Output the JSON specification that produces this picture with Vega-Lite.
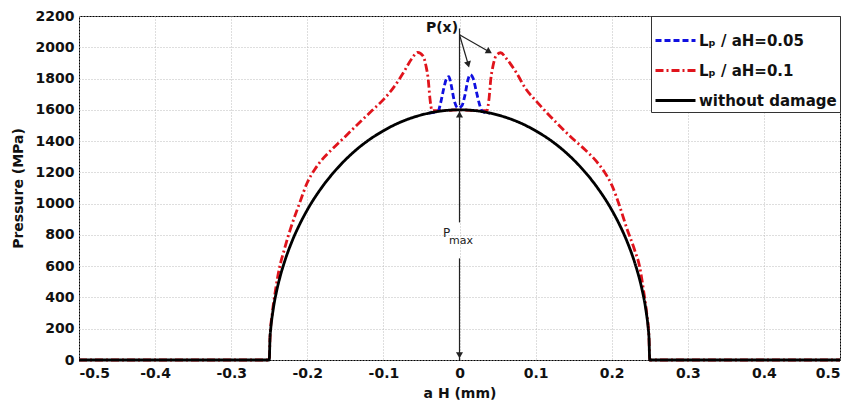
{
  "$schema": "https://vega.github.io/schema/vega-lite/v6.json",
  "width": 761,
  "height": 344,
  "autosize": "none",
  "padding": {"left": 79, "top": 16, "right": 12, "bottom": 45},
  "background": "white",
  "config": {
    "view": {"stroke": "black", "strokeWidth": 1},
    "axis": {
      "labelFont": "DejaVu Sans", "labelFontWeight": "bold", "labelFontSize": 14, "labelColor": "#111",
      "titleFont": "DejaVu Sans", "titleFontWeight": "bold", "titleFontSize": 14, "titleColor": "#111",
      "gridColor": "#bdbdbd", "gridDash": [1, 2], "gridWidth": 1,
      "domain": false, "ticks": false, "labelOverlap": false
    },
    "legend": {
      "labelFont": "DejaVu Sans", "labelFontWeight": "bold", "labelFontSize": 15, "labelColor": "#111"
    }
  },
  "datasets": {
    "curves": [
      {"series": "without damage", "x": -0.5, "p": 0},
      {"series": "without damage", "x": -0.25, "p": 0},
      {"series": "without damage", "x": -0.249, "p": 143},
      {"series": "without damage", "x": -0.248, "p": 202},
      {"series": "without damage", "x": -0.245, "p": 318},
      {"series": "without damage", "x": -0.24, "p": 448},
      {"series": "without damage", "x": -0.235, "p": 546},
      {"series": "without damage", "x": -0.23, "p": 627},
      {"series": "without damage", "x": -0.22, "p": 760},
      {"series": "without damage", "x": -0.21, "p": 868},
      {"series": "without damage", "x": -0.2, "p": 960},
      {"series": "without damage", "x": -0.18, "p": 1110},
      {"series": "without damage", "x": -0.16, "p": 1229},
      {"series": "without damage", "x": -0.14, "p": 1326},
      {"series": "without damage", "x": -0.12, "p": 1404},
      {"series": "without damage", "x": -0.1, "p": 1466},
      {"series": "without damage", "x": -0.08, "p": 1516},
      {"series": "without damage", "x": -0.06, "p": 1553},
      {"series": "without damage", "x": -0.04, "p": 1579},
      {"series": "without damage", "x": -0.02, "p": 1595},
      {"series": "without damage", "x": 0, "p": 1600},
      {"series": "without damage", "x": 0.02, "p": 1595},
      {"series": "without damage", "x": 0.04, "p": 1579},
      {"series": "without damage", "x": 0.06, "p": 1553},
      {"series": "without damage", "x": 0.08, "p": 1516},
      {"series": "without damage", "x": 0.1, "p": 1466},
      {"series": "without damage", "x": 0.12, "p": 1404},
      {"series": "without damage", "x": 0.14, "p": 1326},
      {"series": "without damage", "x": 0.16, "p": 1229},
      {"series": "without damage", "x": 0.18, "p": 1110},
      {"series": "without damage", "x": 0.2, "p": 960},
      {"series": "without damage", "x": 0.21, "p": 868},
      {"series": "without damage", "x": 0.22, "p": 760},
      {"series": "without damage", "x": 0.23, "p": 627},
      {"series": "without damage", "x": 0.235, "p": 546},
      {"series": "without damage", "x": 0.24, "p": 448},
      {"series": "without damage", "x": 0.245, "p": 318},
      {"series": "without damage", "x": 0.248, "p": 202},
      {"series": "without damage", "x": 0.249, "p": 143},
      {"series": "without damage", "x": 0.25, "p": 0},
      {"series": "without damage", "x": 0.5, "p": 0},

      {"series": "Lₚ / aH=0.1", "x": -0.5, "p": 0},
      {"series": "Lₚ / aH=0.1", "x": -0.25, "p": 0},
      {"series": "Lₚ / aH=0.1", "x": -0.249, "p": 143},
      {"series": "Lₚ / aH=0.1", "x": -0.246, "p": 300},
      {"series": "Lₚ / aH=0.1", "x": -0.242, "p": 440},
      {"series": "Lₚ / aH=0.1", "x": -0.237, "p": 580},
      {"series": "Lₚ / aH=0.1", "x": -0.23, "p": 710},
      {"series": "Lₚ / aH=0.1", "x": -0.222, "p": 840},
      {"series": "Lₚ / aH=0.1", "x": -0.21, "p": 1005},
      {"series": "Lₚ / aH=0.1", "x": -0.2, "p": 1135},
      {"series": "Lₚ / aH=0.1", "x": -0.19, "p": 1220},
      {"series": "Lₚ / aH=0.1", "x": -0.18, "p": 1285},
      {"series": "Lₚ / aH=0.1", "x": -0.167, "p": 1350},
      {"series": "Lₚ / aH=0.1", "x": -0.15, "p": 1430},
      {"series": "Lₚ / aH=0.1", "x": -0.13, "p": 1525},
      {"series": "Lₚ / aH=0.1", "x": -0.115, "p": 1595},
      {"series": "Lₚ / aH=0.1", "x": -0.1, "p": 1665},
      {"series": "Lₚ / aH=0.1", "x": -0.087, "p": 1740},
      {"series": "Lₚ / aH=0.1", "x": -0.074, "p": 1835},
      {"series": "Lₚ / aH=0.1", "x": -0.063, "p": 1925},
      {"series": "Lₚ / aH=0.1", "x": -0.055, "p": 1968},
      {"series": "Lₚ / aH=0.1", "x": -0.048, "p": 1945},
      {"series": "Lₚ / aH=0.1", "x": -0.044, "p": 1880},
      {"series": "Lₚ / aH=0.1", "x": -0.041, "p": 1790},
      {"series": "Lₚ / aH=0.1", "x": -0.039, "p": 1680},
      {"series": "Lₚ / aH=0.1", "x": -0.036, "p": 1595},
      {"series": "Lₚ / aH=0.1", "x": -0.02, "p": 1595},
      {"series": "Lₚ / aH=0.1", "x": 0, "p": 1600},
      {"series": "Lₚ / aH=0.1", "x": 0.02, "p": 1595},
      {"series": "Lₚ / aH=0.1", "x": 0.036, "p": 1595},
      {"series": "Lₚ / aH=0.1", "x": 0.039, "p": 1680},
      {"series": "Lₚ / aH=0.1", "x": 0.041, "p": 1790},
      {"series": "Lₚ / aH=0.1", "x": 0.044, "p": 1880},
      {"series": "Lₚ / aH=0.1", "x": 0.048, "p": 1945},
      {"series": "Lₚ / aH=0.1", "x": 0.054, "p": 1965},
      {"series": "Lₚ / aH=0.1", "x": 0.062, "p": 1925},
      {"series": "Lₚ / aH=0.1", "x": 0.075, "p": 1835},
      {"series": "Lₚ / aH=0.1", "x": 0.087, "p": 1735},
      {"series": "Lₚ / aH=0.1", "x": 0.1, "p": 1660},
      {"series": "Lₚ / aH=0.1", "x": 0.115, "p": 1580},
      {"series": "Lₚ / aH=0.1", "x": 0.13, "p": 1505},
      {"series": "Lₚ / aH=0.1", "x": 0.15, "p": 1410},
      {"series": "Lₚ / aH=0.1", "x": 0.165, "p": 1345},
      {"series": "Lₚ / aH=0.1", "x": 0.18, "p": 1270},
      {"series": "Lₚ / aH=0.1", "x": 0.19, "p": 1205},
      {"series": "Lₚ / aH=0.1", "x": 0.2, "p": 1120},
      {"series": "Lₚ / aH=0.1", "x": 0.21, "p": 990},
      {"series": "Lₚ / aH=0.1", "x": 0.22, "p": 840},
      {"series": "Lₚ / aH=0.1", "x": 0.23, "p": 705},
      {"series": "Lₚ / aH=0.1", "x": 0.237, "p": 590},
      {"series": "Lₚ / aH=0.1", "x": 0.242, "p": 440},
      {"series": "Lₚ / aH=0.1", "x": 0.246, "p": 300},
      {"series": "Lₚ / aH=0.1", "x": 0.249, "p": 143},
      {"series": "Lₚ / aH=0.1", "x": 0.25, "p": 0},
      {"series": "Lₚ / aH=0.1", "x": 0.5, "p": 0},

      {"series": "Lₚ / aH=0.05", "x": -0.04, "p": 1579},
      {"series": "Lₚ / aH=0.05", "x": -0.028, "p": 1592},
      {"series": "Lₚ / aH=0.05", "x": -0.025, "p": 1640},
      {"series": "Lₚ / aH=0.05", "x": -0.021, "p": 1730},
      {"series": "Lₚ / aH=0.05", "x": -0.017, "p": 1800},
      {"series": "Lₚ / aH=0.05", "x": -0.014, "p": 1812},
      {"series": "Lₚ / aH=0.05", "x": -0.011, "p": 1760},
      {"series": "Lₚ / aH=0.05", "x": -0.007, "p": 1660},
      {"series": "Lₚ / aH=0.05", "x": -0.002, "p": 1612},
      {"series": "Lₚ / aH=0.05", "x": 0.003, "p": 1625},
      {"series": "Lₚ / aH=0.05", "x": 0.007, "p": 1690},
      {"series": "Lₚ / aH=0.05", "x": 0.011, "p": 1790},
      {"series": "Lₚ / aH=0.05", "x": 0.014, "p": 1825},
      {"series": "Lₚ / aH=0.05", "x": 0.018, "p": 1800},
      {"series": "Lₚ / aH=0.05", "x": 0.022, "p": 1720},
      {"series": "Lₚ / aH=0.05", "x": 0.026, "p": 1640},
      {"series": "Lₚ / aH=0.05", "x": 0.03, "p": 1590},
      {"series": "Lₚ / aH=0.05", "x": 0.04, "p": 1579}
    ],
    "vrules": [
      {"x": 0, "y": 0, "y2": 650},
      {"x": 0, "y": 880, "y2": 1600},
      {"x": 0, "y": 1630, "y2": 2120}
    ],
    "drules": [
      {"x": 0, "y": 2080, "x2": 0.039, "y2": 1972},
      {"x": 0, "y": 2080, "x2": 0.0115, "y2": 1890}
    ]
  },
  "layer": [
    {
      "data": {"name": "curves"},
      "transform": [{"filter": "datum.series === 'Lₚ / aH=0.1'"}],
      "mark": {"type": "line", "strokeWidth": 2.8, "interpolate": "monotone"},
      "encoding": {
        "x": {"field": "x", "type": "quantitative", "scale": {"domain": [-0.5, 0.5], "nice": false},
              "axis": {"title": "a H (mm)", "values": [-0.5, -0.4, -0.3, -0.2, -0.1, 0, 0.1, 0.2, 0.3, 0.4, 0.5], "tickCount": 11,
                       "labelExpr": "datum.value == 0 ? '0' : (datum.value < 0 ? '-' + format(-datum.value, '.1f') : format(datum.value, '.1f'))",
                       "labelPadding": 6, "titlePadding": 6, "labelOverlap": false}},
        "y": {"field": "p", "type": "quantitative", "scale": {"domain": [0, 2200], "nice": false},
              "axis": {"title": "Pressure (MPa)", "format": "d", "values": [0, 200, 400, 600, 800, 1000, 1200, 1400, 1600, 1800, 2000, 2200], "tickCount": 12,
                       "labelPadding": 5, "titlePadding": 10, "labelOverlap": false, "labelBound": false}},
        "color": {"field": "series", "type": "nominal", "title": null,
                  "scale": {"domain": ["Lₚ / aH=0.05", "Lₚ / aH=0.1", "without damage"], "range": ["#1010e0", "#e0141c", "#000000"]},
                  "legend": {"title": null, "orient": "top-right", "offset": 0, "padding": 3, "strokeColor": "#333", "fillColor": "white",
                             "symbolType": "stroke", "symbolStrokeWidth": 3, "symbolSize": 1600, "rowPadding": 0, "labelOffset": 2}},
        "strokeDash": {"field": "series", "type": "nominal", "title": null,
                       "scale": {"domain": ["Lₚ / aH=0.05", "Lₚ / aH=0.1", "without damage"], "range": [[6, 3], [8, 3, 2, 3], [1, 0]]}}
      }
    },
    {
      "data": {"name": "curves"},
      "transform": [{"filter": "datum.series === 'Lₚ / aH=0.05'"}],
      "mark": {"type": "line", "strokeWidth": 2.8, "interpolate": "monotone"},
      "encoding": {
        "x": {"field": "x", "type": "quantitative"},
        "y": {"field": "p", "type": "quantitative"},
        "color": {"field": "series", "type": "nominal", "title": null},
        "strokeDash": {"field": "series", "type": "nominal", "title": null}
      }
    },
    {
      "data": {"name": "curves"},
      "transform": [{"filter": "datum.series === 'without damage'"}],
      "mark": {"type": "line", "strokeWidth": 2.8, "interpolate": "monotone"},
      "encoding": {
        "x": {"field": "x", "type": "quantitative"},
        "y": {"field": "p", "type": "quantitative"},
        "color": {"field": "series", "type": "nominal", "title": null},
        "strokeDash": {"field": "series", "type": "nominal", "title": null}
      }
    },
    {
      "data": {"name": "vrules"},
      "mark": {"type": "rule", "color": "#222", "strokeWidth": 1.2},
      "encoding": {
        "x": {"field": "x", "type": "quantitative"},
        "y": {"field": "y", "type": "quantitative"},
        "y2": {"field": "y2"}
      }
    },
    {
      "data": {"name": "drules"},
      "mark": {"type": "rule", "color": "#222", "strokeWidth": 1.2},
      "encoding": {
        "x": {"field": "x", "type": "quantitative"},
        "y": {"field": "y", "type": "quantitative"},
        "x2": {"field": "x2"},
        "y2": {"field": "y2"}
      }
    },
    {
      "data": {"values": [{"x": 0, "y": 30}]},
      "mark": {"type": "point", "shape": "triangle-down", "filled": true, "color": "#222", "size": 50, "opacity": 1},
      "encoding": {"x": {"field": "x", "type": "quantitative"}, "y": {"field": "y", "type": "quantitative"}}
    },
    {
      "data": {"values": [{"x": 0, "y": 1570}]},
      "mark": {"type": "point", "shape": "triangle-up", "filled": true, "color": "#222", "size": 50, "opacity": 1},
      "encoding": {"x": {"field": "x", "type": "quantitative"}, "y": {"field": "y", "type": "quantitative"}}
    },
    {
      "data": {"values": [{"x": 0.039, "y": 1972}]},
      "mark": {"type": "point", "shape": "triangle-right", "angle": 30, "filled": true, "color": "#222", "size": 50, "opacity": 1},
      "encoding": {"x": {"field": "x", "type": "quantitative"}, "y": {"field": "y", "type": "quantitative"}}
    },
    {
      "data": {"values": [{"x": 0.0115, "y": 1890}]},
      "mark": {"type": "point", "shape": "triangle-right", "angle": 75, "filled": true, "color": "#222", "size": 50, "opacity": 1},
      "encoding": {"x": {"field": "x", "type": "quantitative"}, "y": {"field": "y", "type": "quantitative"}}
    },
    {
      "data": {"values": [{"x": -0.023, "y": 2125, "t": "P(x)"}]},
      "mark": {"type": "text", "font": "DejaVu Sans", "fontWeight": "bold", "fontSize": 14, "color": "#111"},
      "encoding": {"x": {"field": "x", "type": "quantitative"}, "y": {"field": "y", "type": "quantitative"}, "text": {"field": "t"}}
    },
    {
      "data": {"values": [{"x": -0.017, "y": 810, "t": "P"}]},
      "mark": {"type": "text", "font": "DejaVu Sans", "fontSize": 12, "color": "#222"},
      "encoding": {"x": {"field": "x", "type": "quantitative"}, "y": {"field": "y", "type": "quantitative"}, "text": {"field": "t"}}
    },
    {
      "data": {"values": [{"x": 0.002, "y": 760, "t": "max"}]},
      "mark": {"type": "text", "font": "DejaVu Sans", "fontSize": 11, "color": "#222"},
      "encoding": {"x": {"field": "x", "type": "quantitative"}, "y": {"field": "y", "type": "quantitative"}, "text": {"field": "t"}}
    }
  ]
}
